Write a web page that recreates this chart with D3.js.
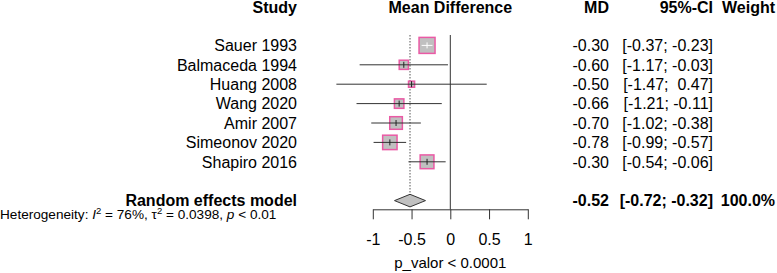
<!DOCTYPE html>
<html>
<head>
<meta charset="utf-8">
<script src="https://cdn.jsdelivr.net/npm/d3@7"></script>
<style>
  body { margin: 0; background: #fff; }
  svg text { font-family: "Liberation Sans", Arial, Helvetica, sans-serif; white-space: pre; }
</style>
</head>
<body>
<div id="chart"></div>
<script>
// Study data
const studies = ["Sauer 1993", "Balmaceda 1994", "Huang 2008", "Wang 2020", "Amir 2007", "Simeonov 2020", "Shapiro 2016"];
const md = [-0.30, -0.60, -0.50, -0.66, -0.70, -0.78, -0.30];
const lower = [-0.37, -1.17, -1.47, -1.21, -1.02, -0.99, -0.54];
const upper = [-0.23, -0.03, 0.47, -0.11, -0.38, -0.57, -0.06];
const weights = [24.3, 8.0, 3.5, 8.5, 15.1, 19.7, 18.0];

// Pooled estimate
const pooled = { label: "Random effects model", md: -0.52, lower: -0.72, upper: -0.32, weight: "100.0%" };
const xTicks = [-1, -0.5, 0, 0.5, 1];
const xTickLabels = ["-1", "-0.5", "0", "0.5", "1"];

const W = 777, H = 273;
const pink = "#ea5aa5";
const boxFill = "#c0c0c0";
const fs = 16;

const svg = d3.select("#chart").append("svg")
  .attr("width", W).attr("height", H);

const x = d3.scaleLinear().domain([-1, 1]).range([372.8, 527.8]);
const y = d3.scaleLinear().domain([0, 1]).range([45.4, 64.8]); // row index -> y
const size = d3.scaleSqrt().domain([0, d3.max(weights)]).range([0, 16]);

// R style numbers: plain hyphen as minus
const fmt = v => d3.format(".2f")(v).replace("\u2212", "-");
const ci = (l, u) => "[" + fmt(l) + ";" + (u < 0 ? " " : "  ") + fmt(u) + "]";

const studyX = 297, mdX = 609, ciX = 713, wX = 775;

// Headers
const hy = y(-2) + 1;
const header = svg.append("g").attr("font-weight", "bold").attr("font-size", fs);
header.append("text").attr("x", studyX).attr("y", hy).attr("dy", "0.36em").attr("text-anchor", "end").text("Study");
header.append("text").attr("x", x(0)).attr("y", hy).attr("dy", "0.36em").attr("text-anchor", "middle").text("Mean Difference");
header.append("text").attr("x", mdX).attr("y", hy).attr("dy", "0.36em").attr("text-anchor", "end").text("MD");
header.append("text").attr("x", ciX).attr("y", hy).attr("dy", "0.36em").attr("text-anchor", "end").text("95%-CI");
header.append("text").attr("x", wX).attr("y", hy).attr("dy", "0.36em").attr("text-anchor", "end").text("Weight");

// Reference lines
const axisY = 209.3;
svg.append("line")
  .attr("x1", x(0)).attr("x2", x(0))
  .attr("y1", 35).attr("y2", axisY)
  .attr("stroke", "#333").attr("stroke-width", 1);

svg.append("line")
  .attr("x1", x(pooled.md)).attr("x2", x(pooled.md))
  .attr("y1", 35).attr("y2", y(8) - 6)
  .attr("stroke", "#555").attr("stroke-width", 1)
  .attr("stroke-dasharray", "1.5,1.5");

// Study rows
const rows = svg.append("g").selectAll("g")
  .data(studies.map((s, i) => ({ s, i, md: md[i], lo: lower[i], hi: upper[i], w: weights[i] })))
  .join("g");

rows.append("text")
  .attr("x", studyX).attr("y", d => y(d.i)).attr("dy", "0.36em")
  .attr("text-anchor", "end").attr("font-size", fs)
  .text(d => d.s);

rows.append("text")
  .attr("x", mdX).attr("y", d => y(d.i)).attr("dy", "0.36em")
  .attr("text-anchor", "end").attr("font-size", fs)
  .text(d => fmt(d.md));

rows.append("text")
  .attr("x", ciX).attr("y", d => y(d.i)).attr("dy", "0.36em")
  .attr("text-anchor", "end").attr("font-size", fs)
  .text(d => ci(d.lo, d.hi));

rows.append("rect")
  .attr("x", d => x(d.md) - size(d.w) / 2)
  .attr("y", d => y(d.i) - size(d.w) / 2)
  .attr("width", d => size(d.w))
  .attr("height", d => size(d.w))
  .attr("fill", boxFill)
  .attr("stroke", pink)
  .attr("stroke-width", 1.5);

// CI lines: white if they fit inside the square
const inside = d => (x(d.hi) - x(d.lo)) < size(d.w);
rows.append("line")
  .attr("x1", d => x(d.lo)).attr("x2", d => x(d.hi))
  .attr("y1", d => y(d.i)).attr("y2", d => y(d.i))
  .attr("stroke", d => inside(d) ? "#fff" : "#333")
  .attr("stroke-width", 1);

rows.append("line")
  .attr("x1", d => x(d.md)).attr("x2", d => x(d.md))
  .attr("y1", d => y(d.i) - 3).attr("y2", d => y(d.i) + 3)
  .attr("stroke", d => inside(d) ? "#fff" : "#222")
  .attr("stroke-width", 1);

// Pooled row
const py = y(8);
const pg = svg.append("g").attr("font-weight", "bold").attr("font-size", fs);
pg.append("text").attr("x", studyX).attr("y", py - 0.5).attr("dy", "0.36em").attr("text-anchor", "end").text(pooled.label);
pg.append("text").attr("x", mdX).attr("y", py - 0.5).attr("dy", "0.36em").attr("text-anchor", "end").text(fmt(pooled.md));
pg.append("text").attr("x", ciX).attr("y", py - 0.5).attr("dy", "0.36em").attr("text-anchor", "end").text(ci(pooled.lower, pooled.upper));
pg.append("text").attr("x", wX).attr("y", py - 0.5).attr("dy", "0.36em").attr("text-anchor", "end").text(pooled.weight);

svg.append("path")
  .attr("d", d3.line()([
    [x(pooled.lower), py], [x(pooled.md), py - 6.3],
    [x(pooled.upper), py], [x(pooled.md), py + 6.3]
  ]) + "Z")
  .attr("fill", boxFill)
  .attr("stroke", "#333")
  .attr("stroke-width", 1);

// Heterogeneity
const het = svg.append("text").attr("x", 0).attr("y", 218.5).attr("font-size", 13.6);
het.append("tspan").text("Heterogeneity: ");
het.append("tspan").attr("font-style", "italic").text("I");
het.append("tspan").attr("font-size", 9.5).attr("dy", -5).text("2");
het.append("tspan").attr("dy", 5).text(" = 76%, τ");
het.append("tspan").attr("font-size", 9.5).attr("dy", -5).text("2");
het.append("tspan").attr("dy", 5).text(" = 0.0398, ");
het.append("tspan").attr("font-style", "italic").text("p");
het.append("tspan").text(" < 0.01");

// Axis
const xAxis = d3.axisBottom(x)
  .tickValues(xTicks)
  .tickFormat((d, i) => xTickLabels[i])
  .tickSize(10)
  .tickPadding(14)
  .tickSizeOuter(0);

const ax = svg.append("g")
  .attr("transform", `translate(0,${axisY})`)
  .call(xAxis);
ax.select(".domain").attr("stroke", "#333");
ax.selectAll(".tick line").attr("stroke", "#333");
ax.selectAll(".tick text")
  .attr("font-size", fs)
  .attr("font-family", "'Liberation Sans', Arial, sans-serif")
  .attr("fill", "#000");

svg.append("text")
  .attr("x", x(0)).attr("y", 263).attr("dy", "0.36em")
  .attr("text-anchor", "middle").attr("font-size", 15)
  .text("p_valor < 0.0001");
</script>
</body>
</html>
